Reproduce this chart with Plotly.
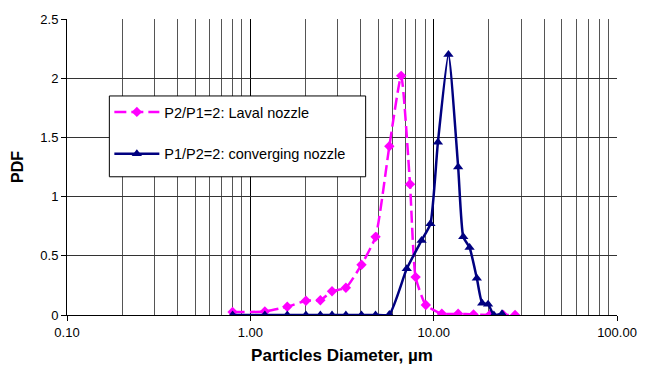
import plotly.graph_objects as go

# Data
x_laval = [0.80, 1.20, 1.59, 2.01, 2.41, 2.79, 3.32, 4.04, 4.82, 5.73, 6.65, 7.43,
           7.97, 9.06, 11.08, 13.6, 16.5, 20.2, 24.0, 27.8]
pdf_laval = [0.025, 0.03, 0.07, 0.12, 0.125, 0.20, 0.23, 0.425, 0.66, 1.425, 2.02, 1.105,
             0.32, 0.085, 0.01, 0.01, 0.005, 0.0, 0.0, 0.0]

x_conv = [0.80, 1.20, 1.59, 2.01, 2.41, 2.79, 3.32, 4.04, 4.82, 5.73, 7.13, 8.59, 9.6,
          10.55, 12.04, 13.6, 14.5, 15.7, 17.2, 18.4, 19.8, 21.3, 23.6]
pdf_conv = [0, 0, 0, 0, 0, 0, 0, 0, 0, 0.005, 0.39, 0.63, 0.77,
            1.46, 2.2, 1.25, 0.66, 0.57, 0.31, 0.10, 0.09, 0.0, 0.01]

name_laval = "P2/P1=2: Laval nozzle"
name_conv = "P1/P2=2: converging nozzle"

x_tickvals = [0.1, 1, 10, 100]
x_ticktext = ["0.10", "1.00", "10.00", "100.00"]
minor_vals = [m * d for d in (0.1, 1, 10) for m in range(2, 10)]

fig = go.Figure()
fig.add_trace(go.Scatter(
    x=x_laval, y=pdf_laval, name=name_laval, mode="lines+markers",
    line=dict(color="#FF00FF", width=2.5, dash="12px,5px", shape="spline", smoothing=0.5),
    marker=dict(symbol="diamond", size=8, color="#FF00FF"),
    legendgroup="a",
))
fig.add_trace(go.Scatter(
    x=x_conv, y=pdf_conv, name=name_conv, mode="lines+markers",
    line=dict(color="#000080", width=2.5, shape="spline", smoothing=0.5),
    marker=dict(symbol="triangle-up", size=9, color="#000080"),
    legendgroup="b",
))

# legend frame (paper coordinates)
fig.add_shape(type="rect", xref="paper", yref="paper",
              x0=0.077, x1=0.543, y0=0.467, y1=0.74,
              fillcolor="white", line=dict(color="black", width=1), layer="above")

fig.update_layout(
    width=649, height=378,
    margin=dict(l=67, r=24, t=15, b=63),
    paper_bgcolor="white", plot_bgcolor="white",
    font=dict(family="Liberation Sans, Arial, sans-serif", color="black", size=13),
    legend=dict(
        x=0.077, y=0.74, xanchor="left", yanchor="top",
        borderwidth=0, bgcolor="rgba(0,0,0,0)",
        font=dict(size=14.5), tracegroupgap=20, traceorder="grouped",
        itemwidth=45,
    ),
    xaxis=dict(
        type="log", range=[-1, 2],
        tickmode="array", tickvals=x_tickvals, ticktext=x_ticktext,
        showgrid=True, gridcolor="black", gridwidth=1,
        showline=True, linecolor="black", linewidth=1,
        ticks="outside", ticklen=5, tickcolor="black",
        minor=dict(tickmode="array", tickvals=minor_vals, showgrid=True,
                   gridcolor="#555555", gridwidth=1, ticks=""),
        title=dict(text="<b>Particles Diameter, µm</b>", font=dict(size=17), standoff=10),
        zeroline=False,
    ),
    yaxis=dict(
        range=[0, 2.5], dtick=0.5,
        showgrid=True, gridcolor="#333333", gridwidth=1,
        showline=True, linecolor="black", linewidth=1,
        ticks="outside", ticklen=5, tickcolor="black",
        title=dict(text="<b>PDF</b>", font=dict(size=16), standoff=12),
        zeroline=False,
    ),
)

fig.write_html("out.html")
